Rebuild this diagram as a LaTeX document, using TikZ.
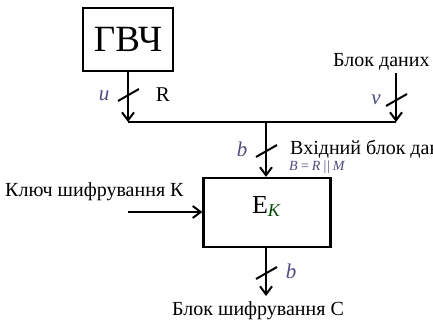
\documentclass[tikz,border=0pt]{standalone}
\usepackage{fontspec}
\setmainfont{Liberation Serif}
\usetikzlibrary{arrows.meta}
\begin{document}
\begin{tikzpicture}[x=1pt,y=-1pt,
  blk/.style={draw,line width=2.2pt,fill=white,inner sep=0pt},
  conn/.style={line width=2.2pt},
  arr/.style={conn,-{Straight Barb[length=8pt,width=12pt,line width=2pt]}},
  slash/.style={line width=2pt},
  txt/.style={font=\fontsize{20}{22}\selectfont,inner sep=0pt,anchor=west},
  lbl/.style={font=\fontsize{21}{23}\selectfont\itshape,text=black!50!blue!40!gray,inner sep=0pt}]
\clip (0,0) rectangle (433,324);
\useasboundingbox (0,0) rectangle (433,324);
\fill[white] (0,0) rectangle (433,324);
\node[blk,minimum width=90pt,minimum height=63pt,font=\fontsize{37}{40}\selectfont] (g) at (128,39.5) {ГВЧ};
\node[blk,minimum width=127pt,minimum height=69pt] (e) at (267,212.5) {};
\node[inner sep=0pt,font=\fontsize{26}{28}\selectfont] (ek) at (266,206) {E\textit{\fontsize{18}{20}\selectfont\raisebox{-3pt}{\color{green!30!black}K}}};
\coordinate (jl) at (128,122);
\coordinate (jr) at (396,122);
\coordinate (jm) at (266,122);
\coordinate (din) at (396,73);
\coordinate (kin) at (128,212);
\coordinate (out) at (266,296);
\draw[arr] (g.south) -- (jl);
\draw[conn] (jl) -- (jr);
\draw[arr] (din) -- (jr);
\draw[arr] (jm) -- (jm |- e.north);
\draw[arr] (kin) -- (kin -| e.west);
\draw[arr] (e.south -| out) -- (out);
% slashes
\draw[slash] (118,101) -- (139,89);
\draw[slash] (386,106) -- (407,94);
\draw[slash] (256,157) -- (277,145);
\draw[slash] (256,279) -- (277,267);
% labels
\node[lbl] (lu) at (104,96) {u};
\node[inner sep=0pt,font=\fontsize{21}{23}\selectfont] (lr) at (163,95) {R};
\node[lbl] (lv) at (376,100) {v};
\node[lbl] (lb1) at (242,149) {b};
\node[lbl] (lb2) at (291,271) {b};
\node[txt] (t1) at (333,62) {Блок даних};
\node[txt] (t2) at (290,149) {Вхідний блок даних};
\node[lbl,anchor=west,font=\fontsize{14}{15}\selectfont\itshape] (t3) at (289,167) {B\,=\,R\,||\,M};
\node[txt] (t4) at (5,192) {Ключ шифрування К};
\node[txt] (t5) at (172,311) {Блок шифрування С};
\end{tikzpicture}
\end{document}
